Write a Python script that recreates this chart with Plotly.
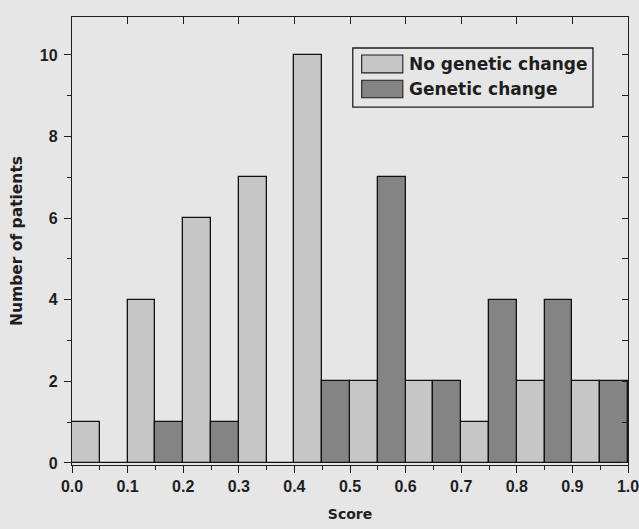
import plotly.graph_objects as go

bin_centers = [0.05, 0.15, 0.25, 0.35, 0.45, 0.55, 0.65, 0.75, 0.85, 0.95]
no_change = [1, 4, 6, 7, 10, 2, 2, 1, 2, 2]
genetic_change = [0, 1, 1, 0, 2, 7, 2, 4, 4, 2]
series_names = ["No genetic change", "Genetic change"]
x_ticks = [0.0, 0.1, 0.2, 0.3, 0.4, 0.5, 0.6, 0.7, 0.8, 0.9, 1.0]
x_tick_labels = ["0.0", "0.1", "0.2", "0.3", "0.4", "0.5", "0.6", "0.7", "0.8", "0.9", "1.0"]
y_ticks = [0, 2, 4, 6, 8, 10]

LIGHT = "#c6c6c6"
DARK = "#848484"
BG = "#e6e6e6"
TICKFONT = "Liberation Sans"
TITLEFONT = "DejaVu Sans"
INK = "#1e1e1e"

fig = go.Figure()
fig.add_trace(go.Bar(x=bin_centers, y=no_change, name=series_names[0],
                     marker=dict(color=LIGHT, line=dict(color="#111111", width=1.3)),
                     showlegend=False))
fig.add_trace(go.Bar(x=bin_centers, y=genetic_change, name=series_names[1],
                     marker=dict(color=DARK, line=dict(color="#111111", width=1.3)),
                     showlegend=False))
# invisible trace to carry top/right mirror axes
fig.add_trace(go.Scatter(x=[0.5], y=[5], xaxis="x2", yaxis="y2", mode="markers",
                         marker=dict(opacity=0), showlegend=False, hoverinfo="skip"))

fig.update_layout(
    width=639, height=529,
    margin=dict(l=72, r=11, t=17, b=64, autoexpand=False),
    paper_bgcolor=BG, plot_bgcolor=BG,
    barmode="group", bargap=0, bargroupgap=0,
    font=dict(family=TICKFONT, color=INK),
    xaxis=dict(range=[0, 1], tickvals=x_ticks, ticktext=x_tick_labels,
               ticks="outside", ticklen=7, tickwidth=1.2, tickcolor=INK,
               showline=True, linecolor=INK, linewidth=1.3,
               showgrid=False, zeroline=False, automargin=False,
               ticklabeloverflow="allow",
               tickfont=dict(size=16, family=TICKFONT, weight="bold", color=INK),
               minor=dict(ticks="outside", ticklen=4, dtick=0.05, tickcolor=INK, showgrid=False),
               title=dict(text="<b>Score</b>", font=dict(size=14, family=TITLEFONT, color=INK), standoff=14)),
    yaxis=dict(range=[-0.05, 10.93], tickvals=y_ticks,
               ticks="outside", ticklen=7, tickwidth=1.2, tickcolor=INK,
               showline=True, linecolor=INK, linewidth=1.3,
               showgrid=False, zeroline=False, ticklabelstandoff=3, automargin=False,
               tickfont=dict(size=16, family=TICKFONT, weight="bold", color=INK),
               minor=dict(ticks="outside", ticklen=4, dtick=1, tickcolor=INK, showgrid=False),
               title=dict(text="<b>Number of patients</b>", font=dict(size=15.5, family=TITLEFONT, color=INK), standoff=13)),
    xaxis2=dict(range=[0, 1], overlaying="x", side="top", tickvals=x_ticks[1:-1],
                ticks="inside", ticklen=7, tickwidth=1.2, tickcolor=INK, showticklabels=False, automargin=False,
                showline=True, linecolor=INK, linewidth=1.3, showgrid=False, zeroline=False),
    yaxis2=dict(range=[-0.05, 10.93], overlaying="y", side="right", dtick=1, tick0=0,
                ticks="inside", ticklen=6, tickwidth=1.2, tickcolor=INK, showticklabels=False, automargin=False,
                showline=True, linecolor=INK, linewidth=1.3, showgrid=False, zeroline=False),
)

# custom legend box (wide swatches like the original)
fig.add_shape(type="rect", xref="x", yref="y", x0=0.505, x1=0.937, y0=8.72, y1=10.17,
              line=dict(color=INK, width=1.3), fillcolor=BG)
swatches = [(LIGHT, 9.56, 10.0), (DARK, 8.95, 9.38)]
for (col, y0, y1), name in zip(swatches, series_names):
    fig.add_shape(type="rect", xref="x", yref="y", x0=0.521, x1=0.595, y0=y0, y1=y1,
                  line=dict(color=INK, width=1.1), fillcolor=col)
    fig.add_annotation(x=0.603, y=(y0 + y1) / 2, xref="x", yref="y", text="<b>" + name + "</b>",
                       showarrow=False, xanchor="left", yanchor="middle",
                       font=dict(size=17, family=TITLEFONT, color=INK))

fig.write_html("out.html", config={"displayModeBar": False},
               post_script="document.body.style.margin='0';document.body.style.overflow='hidden';")
